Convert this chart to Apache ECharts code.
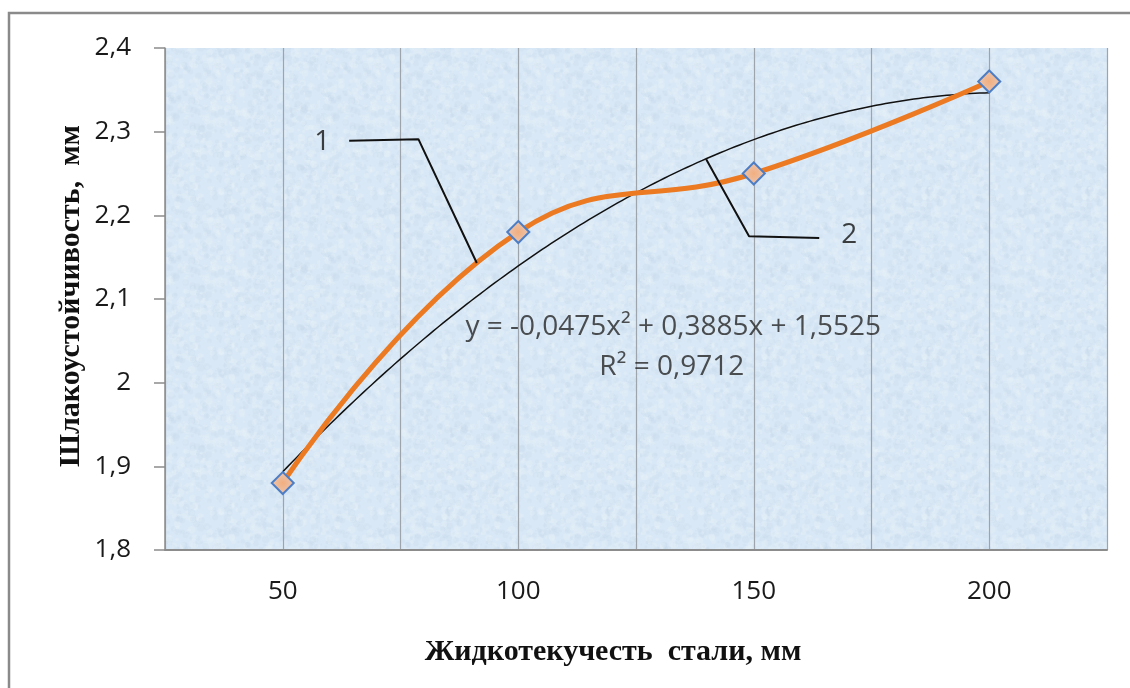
<!DOCTYPE html>
<html>
<head>
<meta charset="utf-8">
<script src="https://cdn.jsdelivr.net/npm/echarts@6/dist/echarts.min.js"></script>
<style>
  html, body { margin: 0; padding: 0; background: #ffffff; }
  #chart { width: 1130px; height: 688px; }
</style>
</head>
<body>
<div id="chart"></div>
<script>
// Steel fluidity (mm) vs. slag resistance (mm)
const fluidity = [50, 100, 150, 200];
const slagResistance = [1.88, 2.18, 2.25, 2.36];

// Quadratic trend: y = a*t^2 + b*t + c, t = point index (1..4)
const trendCoef = [-0.0475, 0.3885, 1.5525];
const trendText = 'y = -0,0475x\u00B2 + 0,3885x + 1,5525';
const r2Text = 'R\u00B2 = 0,9712';

const yTicks = [1.8, 1.9, 2.0, 2.1, 2.2, 2.3, 2.4];
const xLabels = [50, 100, 150, 200];

// Callout leader lines (data coordinates)
const callout1 = [[64.1, 2.289], [78.8, 2.291], [91.2, 2.143]];
const callout2 = [[163.9, 2.173], [149.0, 2.175], [139.9, 2.267]];
const calloutLabels = [
  { pos: [58.4, 2.288], text: '1' },
  { pos: [170.3, 2.176], text: '2' }
];
const eqPos = [[132.9, 2.066], [132.6, 2.019]];

// Trend curve points along the fitted polynomial
const trendData = [];
for (let x = fluidity[0]; x <= fluidity[fluidity.length - 1]; x += 1) {
  const t = x / 50;
  trendData.push([x, trendCoef[0] * t * t + trendCoef[1] * t + trendCoef[2]]);
}

// Soft mottled light-blue fill for the plot area
function makeTexture() {
  const size = 160;
  const c = document.createElement('canvas');
  c.width = size; c.height = size;
  const ctx = c.getContext('2d');
  ctx.fillStyle = '#d9e8f6';
  ctx.fillRect(0, 0, size, size);
  let seed = 7;
  const next = () => { seed = (seed * 16807) % 2147483647; return seed / 2147483647; };
  for (let i = 0; i < 1400; i++) {
    const x = next() * size, y = next() * size, r = 0.8 + next() * 3;
    const light = next() > 0.5;
    ctx.fillStyle = light ? 'rgba(238,245,252,0.22)' : 'rgba(195,214,235,0.2)';
    ctx.beginPath(); ctx.arc(x, y, r, 0, Math.PI * 2); ctx.fill();
  }
  return c;
}

const chart = echarts.init(document.getElementById('chart'), null, { renderer: 'canvas' });

// Tick label style applied through rich text
const tickRich = { t: { fontFamily: 'Open Sans', fontSize: 26, color: '#1a1a1a', lineHeight: 30 } };

chart.setOption({
  backgroundColor: '#ffffff',
  animation: false,
  grid: {
    left: 165, top: 48, right: 23, bottom: 138,
    show: true,
    backgroundColor: { image: makeTexture(), repeat: 'repeat' },
    borderWidth: 0
  },
  xAxis: {
    type: 'value',
    min: 25, max: 225, interval: 25,
    axisLine: { show: true, lineStyle: { color: '#8c8c8c', width: 2 } },
    axisTick: { show: false },
    splitLine: { show: true, lineStyle: { color: '#9ea4ab', width: 1.2 } },
    axisLabel: {
      show: true,
      margin: 27,
      rich: tickRich,
      showMinLabel: false, showMaxLabel: false,
      formatter: v => (xLabels.indexOf(v) >= 0 ? '{t|' + v + '}' : '')
    }
  },
  yAxis: {
    type: 'value',
    min: yTicks[0], max: yTicks[yTicks.length - 1], interval: 0.1,
    axisLine: { show: true, lineStyle: { color: '#8c8c8c', width: 1.5 } },
    axisTick: { show: true, length: 11, lineStyle: { color: '#8c8c8c', width: 1.5 } },
    splitLine: { show: false },
    axisLabel: {
      show: true,
      margin: 34,
      rich: tickRich,
      formatter: v => '{t|' + String(Math.round(v * 10) / 10).replace('.', ',') + '}'
    }
  },
  series: [
    {
      name: 'trend',
      type: 'line',
      data: trendData,
      showSymbol: false,
      smooth: false,
      lineStyle: { color: '#111111', width: 1.5 },
      z: 3
    },
    {
      name: 'slag',
      type: 'line',
      data: fluidity.map((x, i) => [x, slagResistance[i]]),
      smooth: 0.45,
      symbol: 'diamond',
      symbolSize: 22,
      lineStyle: { color: '#eb7a23', width: 5 },
      itemStyle: {
        color: {
          type: 'radial', x: 0.5, y: 0.5, r: 0.6,
          colorStops: [{ offset: 0, color: '#f2ae7e' }, { offset: 1, color: '#e8ccc0' }]
        },
        borderColor: '#4d7dc4',
        borderWidth: 2
      },
      z: 4
    },
    {
      name: 'callout1',
      type: 'line',
      data: callout1,
      showSymbol: false,
      lineStyle: { color: '#111111', width: 2 },
      z: 5
    },
    {
      name: 'callout2',
      type: 'line',
      data: callout2,
      showSymbol: false,
      lineStyle: { color: '#111111', width: 2 },
      z: 5
    },
    {
      name: 'labels',
      type: 'scatter',
      symbolSize: 0,
      data: calloutLabels.map(d => ({ value: d.pos, name: d.text })),
      label: {
        show: true, position: 'inside',
        formatter: p => p.name,
        fontFamily: 'Open Sans', fontSize: 28, color: '#111111'
      },
      z: 6
    },
    {
      name: 'equation',
      type: 'scatter',
      symbolSize: 0,
      data: [
        { value: eqPos[0], name: trendText },
        { value: eqPos[1], name: r2Text }
      ],
      label: {
        show: true, position: 'inside',
        formatter: p => p.name,
        fontFamily: 'Open Sans', fontSize: 28, color: '#262626'
      },
      z: 6
    }
  ],
  graphic: [
    {
      type: 'rect',
      shape: { x: 9, y: 13, width: 1200, height: 760 },
      style: { fill: 'none', stroke: '#8a8a8a', lineWidth: 2.5 },
      silent: true
    },
    {
      type: 'text',
      x: 613, y: 652,
      style: {
        text: 'Жидкотекучесть  стали, мм',
        font: 'bold 30px "Liberation Serif"',
        fill: '#111111',
        align: 'center', verticalAlign: 'middle'
      }
    },
    {
      type: 'text',
      x: 71, y: 296,
      rotation: Math.PI / 2,
      style: {
        text: 'Шлакоустойчивость,  мм',
        font: 'bold 30px "Liberation Serif"',
        fill: '#111111',
        align: 'center', verticalAlign: 'middle'
      }
    }
  ]
});
</script>
</body>
</html>
